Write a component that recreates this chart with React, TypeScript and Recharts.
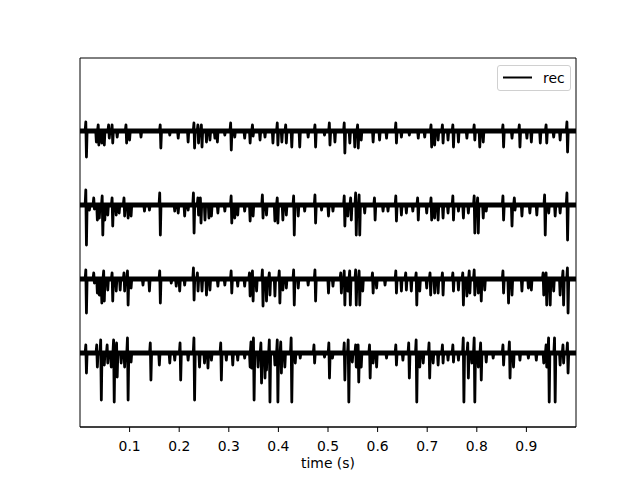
import React from 'react';
import { ComposedChart, Line, XAxis, YAxis, ReferenceLine, ReferenceArea } from 'recharts';

// Each spike: [time (s), downward deflection, upward overshoot]
type Spike = [number, number, number];

const traceA: Spike[] = [
  [0.013, 26, 9], [0.033, 11, 0], [0.038, 14, 6], [0.044, 12, 0], [0.049, 14, 0], [0.059, 7, 6],
  [0.066, 12, 6], [0.075, 6, 0], [0.094, 12, 6], [0.100, 9, 0], [0.123, 6, 0], [0.163, 17, 6],
  [0.181, 4, 0], [0.198, 7, 0], [0.218, 11, 0], [0.231, 17, 8], [0.239, 12, 6], [0.246, 16, 6],
  [0.255, 11, 0], [0.262, 9, 0], [0.272, 7, 0], [0.277, 11, 0], [0.292, 4, 0], [0.305, 19, 8],
  [0.312, 6, 0], [0.332, 7, 0], [0.343, 12, 0], [0.349, 5, 6], [0.363, 9, 0], [0.373, 6, 0],
  [0.389, 12, 0], [0.399, 14, 8], [0.407, 11, 0], [0.416, 12, 6], [0.427, 16, 0], [0.443, 16, 0],
  [0.460, 6, 0], [0.475, 16, 6], [0.493, 4, 0], [0.504, 14, 8], [0.514, 11, 0], [0.534, 22, 8],
  [0.544, 12, 0], [0.554, 16, 0], [0.561, 17, 6], [0.567, 9, 0], [0.591, 11, 0], [0.604, 9, 0],
  [0.618, 7, 0], [0.638, 12, 8], [0.648, 6, 0], [0.664, 4, 0], [0.682, 7, 0], [0.695, 6, 0],
  [0.709, 16, 6], [0.715, 14, 0], [0.722, 9, 0], [0.732, 12, 6], [0.742, 9, 0], [0.753, 16, 6],
  [0.763, 11, 0], [0.780, 7, 0], [0.796, 9, 6], [0.806, 16, 0], [0.813, 11, 0], [0.854, 16, 6],
  [0.871, 7, 0], [0.887, 16, 6], [0.901, 7, 0], [0.910, 11, 0], [0.928, 12, 0], [0.941, 12, 6],
  [0.955, 6, 0], [0.968, 9, 0], [0.983, 21, 9],
];

const traceB: Spike[] = [
  [0.013, 40, 15], [0.019, 5, 0], [0.029, 4, 7], [0.035, 15, 0], [0.039, 13, 0], [0.046, 30, 9],
  [0.050, 15, 0], [0.056, 10, 0], [0.066, 21, 7], [0.073, 10, 0], [0.079, 8, 0], [0.090, 11, 7],
  [0.097, 13, 0], [0.103, 11, 0], [0.130, 6, 0], [0.140, 5, 0], [0.162, 30, 12], [0.191, 6, 0],
  [0.198, 8, 0], [0.211, 11, 0], [0.218, 5, 0], [0.230, 28, 12], [0.239, 10, 7], [0.244, 18, 7],
  [0.252, 15, 0], [0.260, 13, 0], [0.265, 11, 0], [0.278, 8, 0], [0.292, 6, 0], [0.306, 18, 9],
  [0.312, 13, 0], [0.318, 10, 0], [0.332, 6, 0], [0.343, 16, 0], [0.349, 11, 0], [0.369, 13, 10],
  [0.376, 10, 0], [0.393, 16, 0], [0.399, 18, 7], [0.409, 15, 0], [0.416, 10, 0], [0.432, 30, 9],
  [0.440, 11, 0], [0.453, 6, 0], [0.475, 18, 10], [0.487, 5, 0], [0.501, 11, 0], [0.510, 6, 0],
  [0.534, 21, 9], [0.540, 11, 0], [0.547, 15, 7], [0.557, 30, 12], [0.564, 30, 10], [0.574, 8, 0],
  [0.595, 15, 7], [0.611, 6, 0], [0.621, 6, 0], [0.638, 16, 9], [0.648, 10, 0], [0.658, 8, 0],
  [0.671, 6, 0], [0.682, 15, 7], [0.699, 8, 0], [0.709, 15, 7], [0.715, 13, 0], [0.722, 15, 0],
  [0.732, 13, 0], [0.742, 8, 0], [0.753, 15, 9], [0.763, 6, 0], [0.773, 13, 0], [0.783, 8, 0],
  [0.796, 28, 9], [0.803, 28, 7], [0.813, 13, 0], [0.819, 6, 0], [0.854, 15, 9], [0.871, 21, 0],
  [0.877, 5, 7], [0.891, 11, 0], [0.907, 8, 0], [0.921, 10, 0], [0.938, 30, 10], [0.945, 8, 0],
  [0.958, 11, 0], [0.968, 8, 0], [0.983, 35, 12],
];

const traceC: Spike[] = [
  [0.013, 34, 9], [0.029, 4, 6], [0.035, 14, 0], [0.039, 16, 0], [0.044, 24, 0], [0.049, 22, 8],
  [0.056, 11, 0], [0.066, 22, 6], [0.073, 12, 0], [0.081, 11, 0], [0.090, 12, 6], [0.097, 26, 8],
  [0.103, 9, 0], [0.127, 6, 0], [0.140, 12, 0], [0.162, 24, 8], [0.184, 4, 0], [0.194, 7, 0],
  [0.201, 12, 0], [0.211, 6, 0], [0.230, 21, 11], [0.238, 12, 6], [0.246, 12, 0], [0.255, 16, 0],
  [0.262, 11, 0], [0.278, 7, 0], [0.292, 6, 0], [0.306, 14, 8], [0.318, 7, 0], [0.332, 7, 0],
  [0.343, 17, 6], [0.349, 22, 8], [0.356, 12, 0], [0.369, 27, 9], [0.376, 22, 0], [0.383, 16, 6],
  [0.393, 17, 0], [0.403, 24, 8], [0.409, 11, 0], [0.416, 9, 0], [0.432, 26, 9], [0.440, 9, 0],
  [0.460, 6, 0], [0.475, 22, 9], [0.501, 14, 0], [0.510, 7, 0], [0.527, 14, 6], [0.534, 26, 8],
  [0.540, 12, 0], [0.545, 26, 8], [0.557, 26, 9], [0.564, 26, 8], [0.570, 12, 0], [0.591, 14, 6],
  [0.598, 9, 0], [0.615, 6, 0], [0.638, 14, 8], [0.648, 12, 0], [0.658, 11, 6], [0.668, 12, 0],
  [0.679, 26, 6], [0.685, 12, 0], [0.699, 9, 0], [0.707, 16, 6], [0.715, 14, 0], [0.722, 14, 0],
  [0.732, 16, 6], [0.753, 12, 6], [0.763, 11, 0], [0.773, 26, 6], [0.780, 17, 0], [0.786, 14, 8],
  [0.796, 16, 9], [0.803, 14, 0], [0.809, 22, 0], [0.816, 11, 0], [0.854, 14, 8], [0.864, 24, 0],
  [0.871, 16, 0], [0.891, 12, 0], [0.904, 9, 0], [0.910, 11, 0], [0.935, 16, 6], [0.941, 26, 6],
  [0.948, 26, 0], [0.955, 12, 0], [0.968, 16, 0], [0.975, 26, 8], [0.984, 34, 11],
];

const traceD: Spike[] = [
  [0.013, 20, 8], [0.035, 14, 8], [0.043, 47, 13], [0.049, 12, 0], [0.056, 10, 8], [0.063, 14, 0],
  [0.069, 49, 13], [0.075, 24, 10], [0.083, 10, 0], [0.090, 14, 0], [0.097, 47, 15], [0.103, 9, 0],
  [0.143, 27, 10], [0.160, 12, 0], [0.181, 10, 0], [0.191, 7, 0], [0.203, 27, 10], [0.218, 7, 0],
  [0.231, 47, 15], [0.241, 14, 0], [0.251, 10, 0], [0.258, 15, 0], [0.265, 7, 0], [0.285, 27, 10],
  [0.295, 7, 0], [0.308, 12, 0], [0.318, 7, 0], [0.332, 5, 0], [0.343, 14, 0], [0.346, 15, 11],
  [0.351, 47, 15], [0.359, 14, 0], [0.366, 30, 10], [0.373, 25, 0], [0.376, 17, 0], [0.383, 49, 13],
  [0.393, 12, 0], [0.399, 49, 13], [0.406, 20, 11], [0.413, 14, 0], [0.427, 49, 15], [0.434, 10, 0],
  [0.444, 5, 0], [0.473, 10, 8], [0.493, 4, 0], [0.503, 25, 10], [0.509, 5, 0], [0.534, 27, 10],
  [0.542, 49, 13], [0.549, 9, 0], [0.557, 14, 8], [0.562, 29, 8], [0.567, 14, 0], [0.585, 25, 8],
  [0.591, 10, 0], [0.598, 14, 0], [0.618, 5, 0], [0.638, 12, 8], [0.651, 7, 0], [0.664, 25, 10],
  [0.679, 49, 13], [0.685, 14, 0], [0.692, 10, 0], [0.705, 25, 10], [0.712, 10, 0], [0.722, 12, 0],
  [0.732, 10, 8], [0.742, 7, 0], [0.753, 9, 8], [0.763, 7, 0], [0.774, 49, 15], [0.783, 25, 10],
  [0.790, 10, 0], [0.796, 49, 15], [0.803, 14, 0], [0.809, 27, 10], [0.819, 9, 0], [0.833, 5, 0],
  [0.854, 12, 8], [0.867, 25, 11], [0.874, 14, 0], [0.887, 7, 0], [0.904, 5, 0], [0.920, 7, 0],
  [0.935, 10, 0], [0.941, 14, 8], [0.946, 49, 15], [0.958, 49, 15], [0.968, 12, 0], [0.975, 10, 8],
  [0.984, 20, 10],
];

const traces: Spike[][] = [traceA, traceB, traceC, traceD];
const traceOffsets = [222, 148, 74, 0];
const xTicks = [0.1, 0.2, 0.3, 0.4, 0.5, 0.6, 0.7, 0.8, 0.9];
const xDomain: [number, number] = [0, 1];
const yDomain: [number, number] = [-74, 295];
const HALF_WIDTH = 0.0013;

function buildSeries(spikes: Spike[], offset: number) {
  const pts: { t: number; y: number }[] = [{ t: xDomain[0], y: offset }];
  for (const [t, d, u] of spikes) {
    pts.push({ t: t - 2 * HALF_WIDTH, y: offset });
    pts.push({ t: t - HALF_WIDTH, y: offset + u });
    pts.push({ t, y: offset - d });
    pts.push({ t: t + HALF_WIDTH, y: offset });
  }
  pts.push({ t: xDomain[1], y: offset });
  return pts;
}

const FONT = 'DejaVu Sans';

export default function App() {
  const series = traces.map((s, i) => buildSeries(s, traceOffsets[i]));
  return (
    <div style={{ position: 'absolute', left: 0, top: 0, width: 640, height: 480, background: '#fff', fontFamily: FONT }}>
      <ComposedChart width={640} height={480} margin={{ top: 58, right: 64, bottom: 0, left: 80 }}>
        <XAxis
          type="number"
          dataKey="t"
          domain={xDomain}
          ticks={xTicks}
          allowDataOverflow
          height={53}
          axisLine={{ stroke: '#000', strokeWidth: 1 }}
          tickLine={{ stroke: '#000', strokeWidth: 1 }}
          tickSize={5}
          tickMargin={9}
          tick={{ fill: '#000', fontSize: 13.9, fontFamily: FONT }}
          label={{ value: 'time (s)', position: 'insideBottom', offset: 12, fill: '#000', fontSize: 13.9, fontFamily: FONT }}
        />
        <YAxis type="number" domain={yDomain} hide allowDataOverflow />
        {traceOffsets.map((o) => (
          <ReferenceLine key={'b' + o} y={o} stroke="#000" strokeWidth={5} />
        ))}
        {series.map((s, i) => (
          <Line
            key={'l' + i}
            data={s}
            dataKey="y"
            type="linear"
            stroke="#000"
            strokeWidth={2.8}
            strokeLinejoin="round"
            dot={false}
            activeDot={false}
            isAnimationActive={false}
            legendType="none"
          />
        ))}
        <ReferenceArea x1={xDomain[0]} x2={xDomain[1]} y1={yDomain[0]} y2={yDomain[1]} fill="none" stroke="#000" strokeWidth={1} />
      </ComposedChart>
      <div
        style={{
          position: 'absolute',
          left: 497,
          top: 65,
          width: 72,
          height: 24,
          border: '1px solid #d0d0d0',
          borderRadius: 3,
          background: 'rgba(255,255,255,0.8)',
          display: 'flex',
          alignItems: 'center',
        }}
      >
        <svg width={40} height={24} style={{ display: 'block' }}>
          <line x1={5} y1={11.5} x2={34} y2={11.5} stroke="#000" strokeWidth={2} />
        </svg>
        <span style={{ fontSize: 13.9, fontFamily: FONT, color: '#000', marginLeft: 5, lineHeight: '24px' }}>rec</span>
      </div>
    </div>
  );
}
